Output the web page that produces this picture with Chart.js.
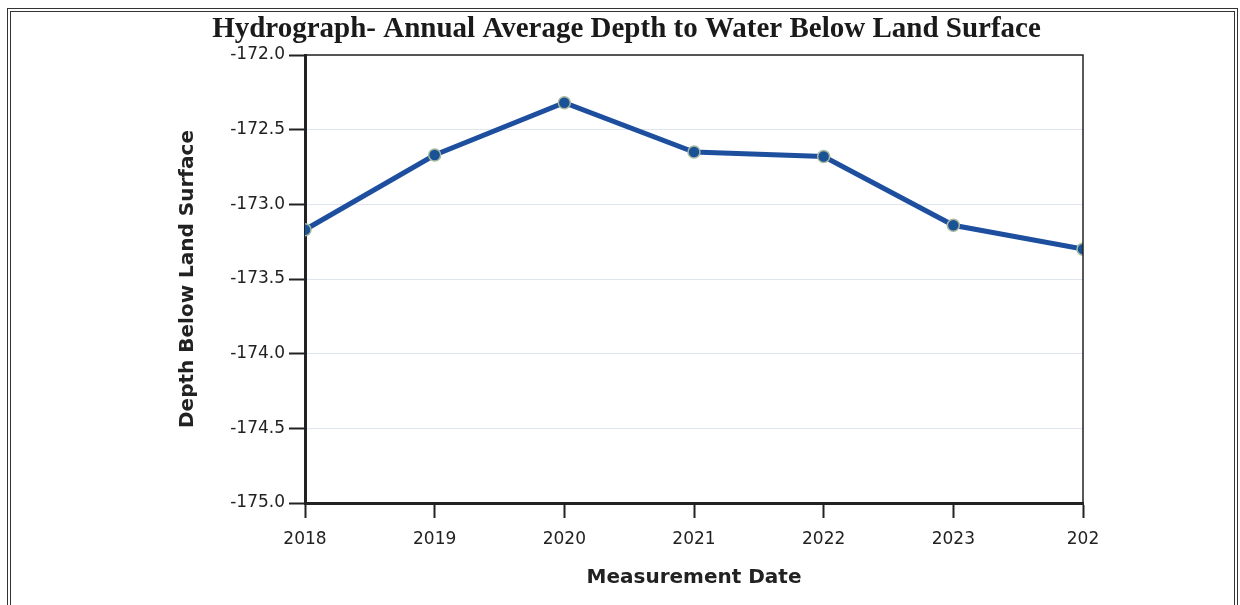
<!DOCTYPE html>
<html>
<head>
<meta charset="utf-8">
<script src="https://cdn.jsdelivr.net/npm/chart.js@4"></script>
<style>
  html, body { margin: 0; padding: 0; background: #fff; overflow: hidden; }
  #frame { position: absolute; left: 7px; top: 8px; width: 1223px; height: 600px; border: 4px double #333; }
  #wrap { position: absolute; left: 0; top: 0; width: 1240px; height: 605px; }
</style>
</head>
<body>
<div id="frame"></div>
<div id="wrap"><canvas id="hydro" width="1240" height="605"></canvas></div>
<script>
const years = [2018, 2019, 2020, 2021, 2022, 2023, 2024];
const depth = [-173.17, -172.67, -172.32, -172.65, -172.68, -173.14, -173.30];
// last label is cut off in the original
const yearLabels = ['2018', '2019', '2020', '2021', '2022', '2023', '202'];

// thin frame on top/right of the plot
const frameBox = {
  id: 'frameBox',
  afterDraw(chart) {
    const { ctx, chartArea: a } = chart;
    ctx.save();
    ctx.strokeStyle = '#222';
    ctx.lineWidth = 1.5;
    ctx.beginPath();
    ctx.moveTo(a.left, a.top);
    ctx.lineTo(a.right, a.top);
    ctx.lineTo(a.right, a.bottom);
    ctx.stroke();
    ctx.restore();
  }
};

const ctx = document.getElementById('hydro').getContext('2d');
new Chart(ctx, {
  type: 'line',
  data: {
    datasets: [{
      data: years.map((y, i) => ({ x: y, y: depth[i] })),
      borderColor: '#1d4f9e',
      borderWidth: 5,
      pointRadius: 6,
      pointBackgroundColor: '#1a5296',
      pointBorderColor: '#a9b8a0',
      pointBorderWidth: 1.5,
      tension: 0
    }]
  },
  options: {
    responsive: false,
    animation: false,
    layout: { padding: { left: 170, right: 157, top: 0, bottom: 10 } },
    plugins: {
      legend: { display: false },
      tooltip: { enabled: false },
      title: {
        display: true,
        text: 'Hydrograph- Annual Average Depth to Water Below Land Surface',
        color: '#1a1a1a',
        font: { family: 'Liberation Serif', size: 29, weight: 'bold', lineHeight: 1 },
        padding: { top: 15, bottom: 11 }
      }
    },
    scales: {
      x: {
        type: 'linear',
        min: 2018,
        max: 2024,
        afterFit(s) { s.height = 92; },
        afterBuildTicks(s) { s.ticks = years.map(v => ({ value: v })); },
        ticks: {
          callback: (v) => yearLabels[years.indexOf(v)],
          color: '#222',
          font: { family: 'DejaVu Sans', size: 17 },
          padding: 11,
          maxRotation: 0
        },
        grid: { drawOnChartArea: false, drawTicks: true, tickLength: 15, tickColor: '#222', tickWidth: 2 },
        border: { color: '#222', width: 3 },
        title: {
          display: true,
          text: 'Measurement Date',
          color: '#222',
          font: { family: 'DejaVu Sans', size: 20, weight: 'bold' },
          padding: { top: 0, bottom: 5 }
        }
      },
      y: {
        min: -175,
        max: -172,
        afterFit(s) { s.width = 135; },
        ticks: {
          stepSize: 0.5,
          callback: (v) => v.toFixed(1),
          color: '#222',
          font: { family: 'DejaVu Sans', size: 17 },
          padding: 4
        },
        grid: { color: '#dfe5ef', lineWidth: 1, drawTicks: true, tickLength: 16, tickColor: '#222', tickWidth: 2 },
        border: { color: '#222', width: 3 },
        title: {
          display: true,
          text: 'Depth Below Land Surface',
          color: '#222',
          font: { family: 'DejaVu Sans', size: 20, weight: 'bold' },
          padding: { top: 6, bottom: 0 }
        }
      }
    }
  },
  plugins: [frameBox]
});
</script>
</body>
</html>
